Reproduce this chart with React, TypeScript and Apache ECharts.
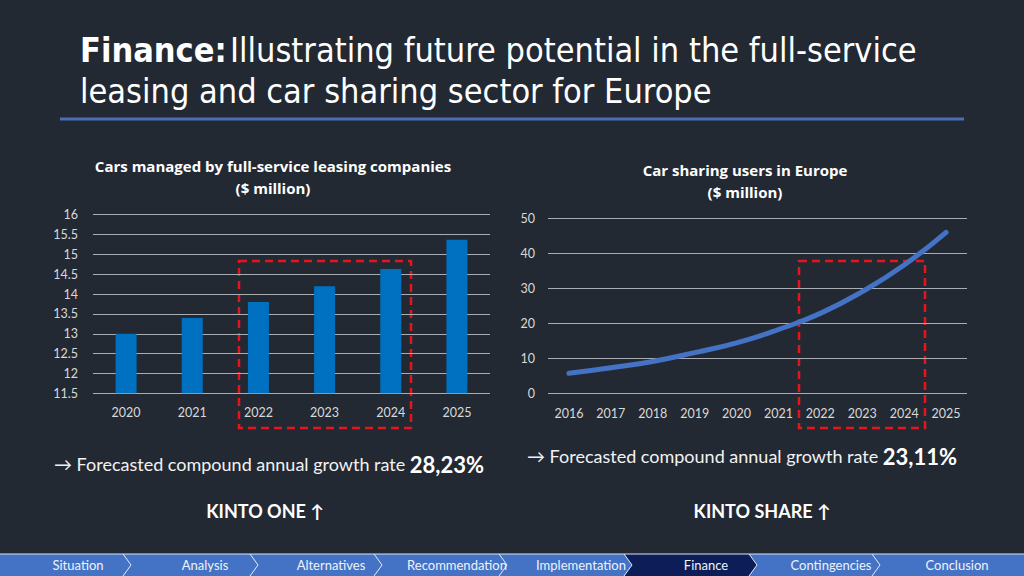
import React, { useEffect, useRef } from "react";
import * as echarts from "echarts";

const leasingYears = ["2020", "2021", "2022", "2023", "2024", "2025"];
const leasingValues = [13.0, 13.4, 13.8, 14.2, 14.63, 15.37];
const sharingYears = ["2016", "2017", "2018", "2019", "2020", "2021", "2022", "2023", "2024", "2025"];
const sharingValues = [5.8, 7.4, 9.2, 11.7, 14.5, 18.3, 22.9, 29.1, 36.7, 46.0];
const navItems = ["Situation", "Analysis", "Alternatives", "Recommendation", "Implementation", "Finance", "Contingencies", "Conclusion"];
const navCenters = [78, 205, 331, 457, 581, 706, 831, 957];
const navTips = [131, 258, 382, 507, 632, 757, 880];
const activeNav = "Finance";

const BG = "#232933";
const FONT = "Lato, 'Open Sans', sans-serif";
const HEAD_FONT = "'Open Sans', Lato, sans-serif";
const TITLE_FONT = "'DejaVu Sans Condensed', 'Liberation Sans Narrow', Lato, sans-serif";

export default function App() {
  const ref = useRef<HTMLDivElement>(null);
  useEffect(() => {
    document.body.style.margin = "0";
    const chart = echarts.init(ref.current!, null, { renderer: "svg" });

    const navGraphics: any[] = [];
    navGraphics.push({ type: "rect", shape: { x: 0, y: 554, width: 1024, height: 22 }, style: { fill: "#4472c4" } });
    const ai = navItems.indexOf(activeNav);
    if (ai > 0) {
      const a = navTips[ai - 1], b = navTips[ai];
      navGraphics.push({
        type: "polygon",
        shape: { points: [[a - 8, 554], [a, 565], [a - 8, 576], [b - 8, 576], [b, 565], [b - 8, 554]] },
        style: { fill: "#0c1d57" },
      });
    }
    navGraphics.push({ type: "line", shape: { x1: 0, y1: 554, x2: 1024, y2: 554 }, style: { stroke: "#d9e1f2", lineWidth: 1 } });
    navTips.forEach((t) => {
      navGraphics.push({
        type: "polyline",
        shape: { points: [[t - 8, 554], [t, 565], [t - 8, 576]] },
        style: { stroke: "#e6ecf8", lineWidth: 1, fill: null },
      });
    });
    navItems.forEach((n, i) => {
      navGraphics.push({
        type: "text",
        x: navCenters[i],
        y: 565,
        style: { text: n, fill: "#eef2fa", font: `13px ${FONT}`, align: "center", verticalAlign: "middle" },
      });
    });

    const dashStyle = { stroke: "#e8141c", lineWidth: 2.5, fill: null, lineDash: [8, 5] };
    const axisLabel = { color: "#d9d9d9", fontSize: 12.5, fontFamily: FONT };

    chart.setOption({
      animation: false,
      backgroundColor: BG,
      grid: [
        { left: 93, top: 214.7, width: 397, height: 178.6, containLabel: false },
        { left: 548, top: 218.3, width: 419, height: 175.4, containLabel: false },
      ],
      xAxis: [
        {
          type: "category",
          gridIndex: 0,
          data: leasingYears,
          axisLine: { show: false },
          axisTick: { show: false },
          axisLabel: { ...axisLabel, margin: 13 },
        },
        {
          type: "category",
          gridIndex: 1,
          data: sharingYears,
          axisLine: { show: false },
          axisTick: { show: false },
          axisLabel: { ...axisLabel, margin: 13 },
        },
      ],
      yAxis: [
        {
          type: "value",
          gridIndex: 0,
          min: 11.5,
          max: 16,
          interval: 0.5,
          axisLine: { show: false },
          axisTick: { show: false },
          axisLabel: { ...axisLabel, margin: 15 },
          splitLine: { lineStyle: { color: "#a9acb1", width: 1 } },
        },
        {
          type: "value",
          gridIndex: 1,
          min: 0,
          max: 50,
          interval: 10,
          axisLine: { show: false },
          axisTick: { show: false },
          axisLabel: { ...axisLabel, margin: 13 },
          splitLine: { lineStyle: { color: "#a9acb1", width: 1 } },
        },
      ],
      series: [
        {
          type: "bar",
          xAxisIndex: 0,
          yAxisIndex: 0,
          data: leasingValues,
          barWidth: 21,
          itemStyle: { color: "#0070c0" },
        },
        {
          type: "line",
          xAxisIndex: 1,
          yAxisIndex: 1,
          data: sharingValues,
          smooth: true,
          showSymbol: false,
          symbol: "none",
          lineStyle: { color: "#4472c4", width: 5, cap: "round" },
        },
      ],
      graphic: [
        {
          type: "text",
          x: 80,
          y: 50,
          style: {
            text: "{b|Finance:} {n|Illustrating future potential in the full-service}",
            verticalAlign: "middle",
            rich: {
              b: { font: `bold 34px ${TITLE_FONT}`, fill: "#ffffff" },
              n: { font: `34px ${TITLE_FONT}`, fill: "#ffffff" },
            },
          },
        },
        {
          type: "text",
          x: 80,
          y: 91,
          style: { text: "leasing and car sharing sector for Europe", font: `34px ${TITLE_FONT}`, fill: "#ffffff", verticalAlign: "middle" },
        },
        { type: "line", shape: { x1: 60, y1: 119, x2: 964, y2: 119 }, style: { stroke: "#4a6fb5", lineWidth: 3 } },
        {
          type: "text",
          x: 273,
          y: 166,
          style: { text: "Cars managed by full-service leasing companies", font: `bold 15px ${HEAD_FONT}`, fill: "#ffffff", align: "center", verticalAlign: "middle" },
        },
        {
          type: "text",
          x: 273,
          y: 188,
          style: { text: "($ million)", font: `bold 15px ${HEAD_FONT}`, fill: "#ffffff", align: "center", verticalAlign: "middle" },
        },
        {
          type: "text",
          x: 745,
          y: 170,
          style: { text: "Car sharing users in Europe", font: `bold 15px ${HEAD_FONT}`, fill: "#ffffff", align: "center", verticalAlign: "middle" },
        },
        {
          type: "text",
          x: 745,
          y: 192,
          style: { text: "($ million)", font: `bold 15px ${HEAD_FONT}`, fill: "#ffffff", align: "center", verticalAlign: "middle" },
        },
        { type: "rect", shape: { x: 239, y: 261, width: 172, height: 167 }, style: dashStyle },
        { type: "rect", shape: { x: 799, y: 261, width: 126, height: 167 }, style: dashStyle },
        {
          type: "text",
          x: 54,
          y: 464,
          style: {
            text: "{n|→ Forecasted compound annual growth rate }{b|28,23%}",
            verticalAlign: "middle",
            rich: {
              n: { font: `18px ${FONT}`, fill: "#f2f2f2" },
              b: { font: `bold 22px ${FONT}`, fill: "#ffffff" },
            },
          },
        },
        {
          type: "text",
          x: 527,
          y: 456,
          style: {
            text: "{n|→ Forecasted compound annual growth rate }{b|23,11%}",
            verticalAlign: "middle",
            rich: {
              n: { font: `18px ${FONT}`, fill: "#f2f2f2" },
              b: { font: `bold 22px ${FONT}`, fill: "#ffffff" },
            },
          },
        },
        {
          type: "text",
          x: 265,
          y: 511,
          style: { text: "KINTO ONE ↑", font: `bold 18px ${FONT}`, fill: "#ffffff", align: "center", verticalAlign: "middle" },
        },
        {
          type: "text",
          x: 762,
          y: 511,
          style: { text: "KINTO SHARE ↑", font: `bold 18px ${FONT}`, fill: "#ffffff", align: "center", verticalAlign: "middle" },
        },
        ...navGraphics,
      ],
    });
    return () => chart.dispose();
  }, []);
  return <div ref={ref} style={{ position: "fixed", left: 0, top: 0, width: 1024, height: 576 }} />;
}
